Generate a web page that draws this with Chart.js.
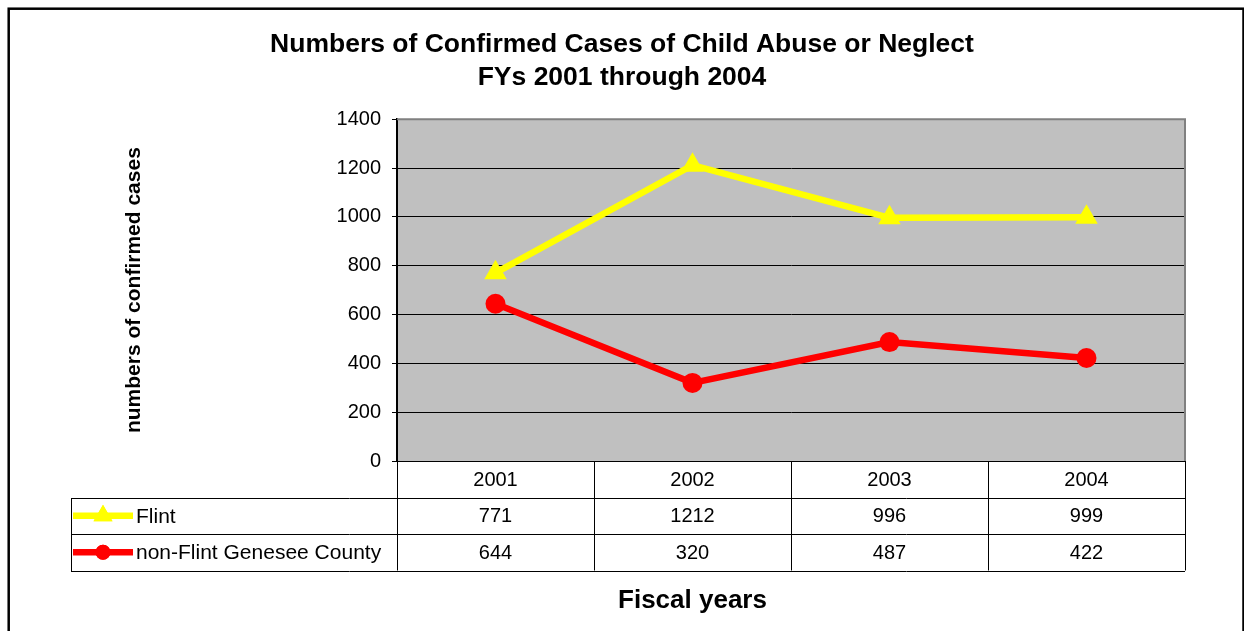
<!DOCTYPE html>
<html>
<head>
<meta charset="utf-8">
<script src="https://cdn.jsdelivr.net/npm/chart.js@4.4.1/dist/chart.umd.min.js"></script>
<style>
  html, body { margin: 0; padding: 0; background: #fff; }
  #wrap { position: relative; width: 1244px; height: 631px; }
</style>
</head>
<body>
<div id="wrap"><canvas id="lineChart"></canvas></div>
<script>
// data
const years = ['2001', '2002', '2003', '2004'];
const flint = [771, 1212, 996, 999];
const nonFlint = [644, 320, 487, 422];
const seriesNames = ['Flint', 'non-Flint Genesee County'];
const yTicks = [0, 200, 400, 600, 800, 1000, 1200, 1400];

const FONT = "'Liberation Sans', Arial, sans-serif";
const seriesStyle = [
  { color: '#ffff00', point: 'triangle', radius: 13, keyRadius: 11 },
  { color: '#ff0000', point: 'circle', radius: 10, keyRadius: 7.5 }
];

// outer frame + grey plot area
const framePlugin = {
  id: 'frame',
  beforeDraw(chart) {
    const { ctx, chartArea: a } = chart;
    ctx.save();
    ctx.fillStyle = '#fff';
    ctx.fillRect(0, 0, chart.width, chart.height);
    ctx.strokeStyle = '#000';
    ctx.lineWidth = 2.5;
    ctx.strokeRect(8.7, 8.7, chart.width - 9.2, chart.height + 20);
    ctx.fillStyle = '#c0c0c0';
    ctx.fillRect(a.left, a.top, a.right - a.left, a.bottom - a.top);
    ctx.restore();
  },
  beforeDatasetsDraw(chart) {
    const { ctx, chartArea: a } = chart;
    ctx.save();
    ctx.strokeStyle = '#808080';
    ctx.lineWidth = 2;
    ctx.beginPath();
    ctx.moveTo(a.left, a.top);
    ctx.lineTo(a.right, a.top);
    ctx.lineTo(a.right, a.bottom);
    ctx.stroke();
    ctx.restore();
  }
};

// data table under the plot, Excel style
const tablePlugin = {
  id: 'dataTable',
  afterDraw(chart) {
    const { ctx, chartArea: a } = chart;
    const x = chart.scales.x;
    const rowH = 36.5;
    const top = a.bottom;
    const rowLines = [top + rowH, top + 2 * rowH, top + 3 * rowH];
    const tableLeft = 71;
    const half = (x.getPixelForValue(1) - x.getPixelForValue(0)) / 2;

    ctx.save();
    ctx.strokeStyle = '#000';
    ctx.lineWidth = 1;
    ctx.beginPath();
    for (let i = 0; i <= years.length; i++) {
      const cx = Math.round(x.getPixelForValue(i) - half) + 0.5;
      ctx.moveTo(cx, top);
      ctx.lineTo(cx, rowLines[2]);
    }
    rowLines.forEach(ry => {
      const yy = Math.round(ry) + 0.5;
      ctx.moveTo(tableLeft, yy);
      ctx.lineTo(a.right, yy);
    });
    ctx.moveTo(tableLeft + 0.5, Math.round(rowLines[0]));
    ctx.lineTo(tableLeft + 0.5, Math.round(rowLines[2]));
    ctx.stroke();

    const values = [flint, nonFlint];
    ctx.textBaseline = 'middle';
    values.forEach((vals, r) => {
      const cy = top + rowH * (r + 1.5);
      const st = seriesStyle[r];
      // legend key
      ctx.strokeStyle = st.color;
      ctx.lineWidth = 6.5;
      ctx.beginPath();
      ctx.moveTo(73, cy);
      ctx.lineTo(133, cy);
      ctx.stroke();
      ctx.fillStyle = st.color;
      Chart.helpers.drawPoint(ctx, { pointStyle: st.point, radius: st.keyRadius, borderWidth: 0 }, 103, cy);
      ctx.fill();

      ctx.fillStyle = '#000';
      ctx.font = '21px ' + FONT;
      ctx.textAlign = 'left';
      ctx.fillText(seriesNames[r], 136, cy + 1);

      ctx.font = '20px ' + FONT;
      ctx.textAlign = 'center';
      vals.forEach((v, i) => ctx.fillText(String(v), x.getPixelForValue(i), cy + 1));
    });

    // x axis title
    ctx.font = 'bold 26px ' + FONT;
    ctx.textAlign = 'center';
    ctx.fillStyle = '#000';
    ctx.fillText('Fiscal years', x.getPixelForValue(1), 601);
    ctx.restore();
  }
};

new Chart(document.getElementById('lineChart'), {
  type: 'line',
  data: {
    labels: years,
    datasets: [
      {
        label: seriesNames[0], data: flint,
        borderColor: seriesStyle[0].color, backgroundColor: seriesStyle[0].color,
        borderWidth: 6.5, tension: 0,
        pointStyle: seriesStyle[0].point, pointRadius: seriesStyle[0].radius, pointBorderWidth: 0
      },
      {
        label: seriesNames[1], data: nonFlint,
        borderColor: seriesStyle[1].color, backgroundColor: seriesStyle[1].color,
        borderWidth: 6.5, tension: 0,
        pointStyle: seriesStyle[1].point, pointRadius: seriesStyle[1].radius, pointBorderWidth: 0
      }
    ]
  },
  options: {
    responsive: true,
    maintainAspectRatio: false,
    animation: false,
    layout: { padding: 0 },
    plugins: {
      legend: { display: false },
      tooltip: { enabled: false },
      title: {
        display: true,
        text: ['Numbers of Confirmed Cases of Child Abuse or Neglect', 'FYs 2001 through 2004'],
        color: '#000',
        font: { family: FONT, size: 26.5, weight: 'bold', lineHeight: 1.25 },
        padding: { top: 28, bottom: 25 }
      }
    },
    scales: {
      x: {
        offset: true,
        grid: { display: false },
        border: { color: '#000', width: 1 },
        ticks: { color: '#000', font: { family: FONT, size: 20 }, padding: -1 },
        afterFit(s) { s.height = 170; }
      },
      y: {
        min: 0, max: 1400,
        afterBuildTicks(s) { s.ticks = yTicks.map(v => ({ value: v })); },
        grid: { color: '#000', tickLength: 5 },
        border: { color: '#000', width: 2 },
        ticks: {
          color: '#000', font: { family: FONT, size: 20 }, padding: 11,
          callback: v => String(v)
        },
        title: {
          display: true,
          text: 'numbers of confirmed cases',
          color: '#000',
          font: { family: FONT, size: 21, weight: 'bold' },
          padding: { top: 122, bottom: 0 }
        },
        afterFit(s) { s.width = 397; }
      },
      y2: {
        position: 'right',
        display: true,
        grid: { display: false },
        border: { display: false },
        ticks: { display: false },
        afterFit(s) { s.width = 59; }
      }
    }
  },
  plugins: [framePlugin, tablePlugin]
});
</script>
</body>
</html>
